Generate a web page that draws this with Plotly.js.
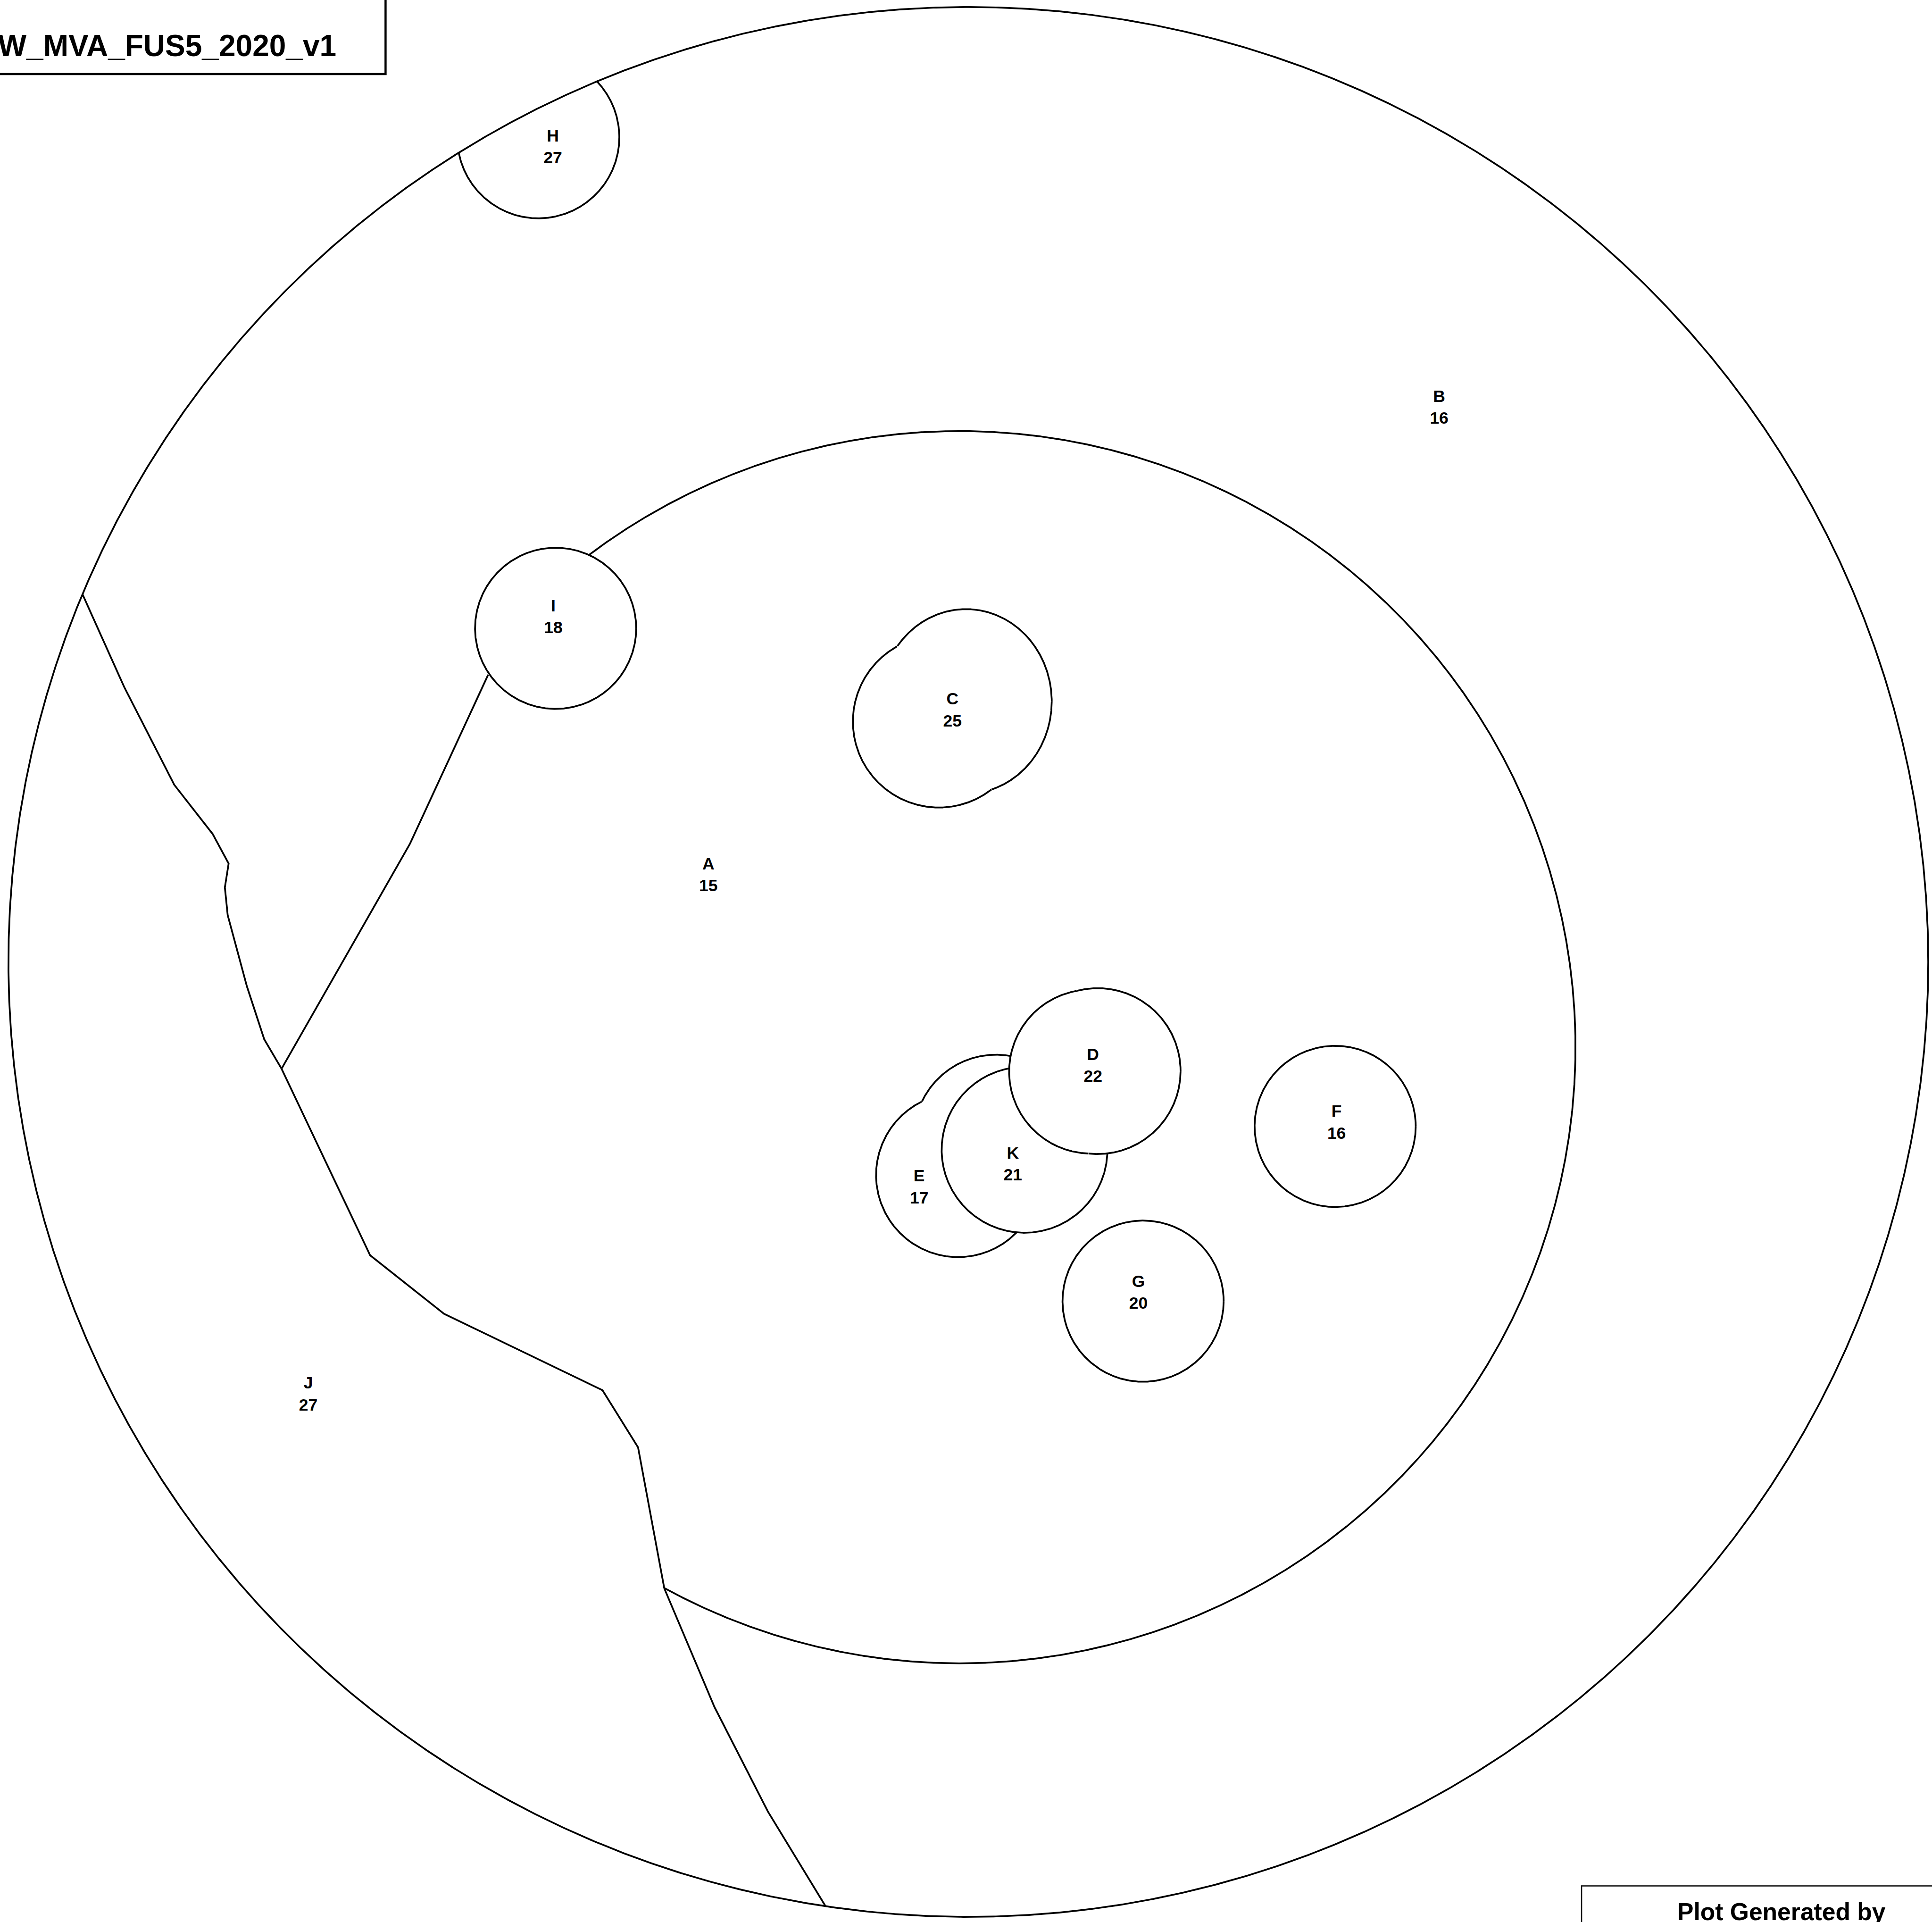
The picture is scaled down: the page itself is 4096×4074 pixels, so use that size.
<!DOCTYPE html>
<html><head><meta charset="utf-8">
<script src="https://cdn.plot.ly/plotly-3.0.1.min.js"></script>
<style>html,body{margin:0;padding:0;background:#fff;overflow:hidden}#chart{width:4096px;height:4074px}</style>
</head><body><div id="chart"></div>
<script>
// Map units = pixels of the original 4124 x 4102 plot (y grows downward).
const zoneNames  = ['A','B','C','D','E','F','G','H','I','J','K'];
const zoneValues = [15, 16, 25, 22, 17, 16, 20, 27, 18, 27, 21];
const labelX = [1512, 3072, 2033, 2333, 1962, 2853, 2430, 1180, 1181, 658, 2162];
const labelY = [1870, 872, 1518, 2277, 2536, 2398, 2761, 316, 1319, 2978, 2487];

// Wafer edge (slightly elliptical in the original)
const waferCenter = [2067, 2053];
const waferRadii  = [2049, 2038];

// Inner ring (only drawn where it separates A and B)
const ringCenter = [2048, 2235];
const ringRadius = 1315;
const ringArcDeg = [-127, 118.6];

// Round zones, each made of one or more rounded pieces (outline = union of pieces)
const pieceZone = ['C', 'C', 'D', 'D', 'E', 'E', 'F', 'G', 'H', 'I', 'K'];
const pieceCX   = [2062, 2004, 2329, 2343, 2045, 2126, 2850, 2440, 1149, 1186, 2187];
const pieceCY   = [1497, 1540, 2287, 2286, 2508, 2426, 2404, 2777, 293, 1341, 2454];
const pieceRX   = [183, 183.5, 175, 177, 175, 175, 172, 172, 173, 172, 177];
const pieceRY   = [197, 183.5, 175, 177, 175, 175, 172, 172, 173, 172, 177];
// stacking of overlapping zones (higher covers lower)
const zoneLayer = {E: 0, K: 1, D: 2};

// Straight boundaries between A, B and J
const edgeLeftX = [176, 265, 372, 454, 488, 480, 486, 527, 564, 601];
const edgeLeftY = [1268, 1466, 1675, 1780, 1843, 1894, 1953, 2105, 2218, 2281];
const spokeX = [1042, 875, 601];
const spokeY = [1440, 1801, 2281];
const jBorderX = [601, 790, 948, 1286, 1362, 1418];
const jBorderY = [2281, 2679, 2804, 2967, 3089, 3390];
const tailX = [1418, 1525, 1639, 1762];
const tailY = [3390, 3643, 3866, 4068];

const titleText = 'SW_MVA_FUS5_2020_v1';
const footerText = 'Plot Generated by';

const LW = 3.7;
const LINE = {color: '#000', width: LW};
const traces = [];

function insideEllipse(x, y, cx, cy, rx, ry) {
  const dx = (x - cx) / rx, dy = (y - cy) / ry;
  return dx * dx + dy * dy < 1 - 1e-9;
}
function layerOf(z) { return zoneLayer[z] !== undefined ? zoneLayer[z] : 0; }

function outline(cx, cy, rx, ry, a0, a1, hidden) {
  const n = 2400, xs = [], ys = [];
  for (let i = 0; i <= n; i++) {
    const a = (a0 + (a1 - a0) * i / n) * Math.PI / 180;
    const x = cx + rx * Math.cos(a), y = cy + ry * Math.sin(a);
    if (hidden && hidden(x, y)) { xs.push(null); ys.push(null); }
    else { xs.push(x); ys.push(y); }
  }
  return {type: 'scatter', mode: 'lines', x: xs, y: ys, line: LINE, hoverinfo: 'skip', showlegend: false};
}

// wafer edge
traces.push(outline(waferCenter[0], waferCenter[1], waferRadii[0], waferRadii[1], 0, 360, null));
// inner ring arc
traces.push(outline(ringCenter[0], ringCenter[1], ringRadius, ringRadius, ringArcDeg[0], ringArcDeg[1], null));

// polyline boundaries
[[edgeLeftX, edgeLeftY], [spokeX, spokeY], [jBorderX, jBorderY], [tailX, tailY]].forEach(p => {
  traces.push({type: 'scatter', mode: 'lines', x: p[0], y: p[1], line: LINE, hoverinfo: 'skip', showlegend: false});
});

// round zones
pieceZone.forEach((z, i) => {
  const hidden = (x, y) => {
    if (!insideEllipse(x, y, waferCenter[0], waferCenter[1], waferRadii[0], waferRadii[1])) return true;
    for (let j = 0; j < pieceZone.length; j++) {
      if (j === i) continue;
      const zj = pieceZone[j];
      const covers = (zj === z) || (layerOf(zj) > layerOf(z));
      if (covers && insideEllipse(x, y, pieceCX[j], pieceCY[j], pieceRX[j], pieceRY[j])) return true;
    }
    return false;
  };
  traces.push(outline(pieceCX[i], pieceCY[i], pieceRX[i], pieceRY[i], 0, 360, hidden));
});

// zone labels
traces.push({
  type: 'scatter', mode: 'text', x: labelX, y: labelY,
  text: zoneNames.map((n, i) => '<b>' + n + '<br>' + zoneValues[i] + '</b>'),
  textposition: 'middle center',
  textfont: {family: 'Liberation Sans, Arial, sans-serif', size: 35.5, color: '#000'},
  cliponaxis: false, hoverinfo: 'skip', showlegend: false
});

const layout = {
  width: 4096, height: 4074,
  margin: {l: 0, r: 0, t: 0, b: 0, pad: 0},
  paper_bgcolor: '#fff', plot_bgcolor: '#fff',
  font: {family: 'Liberation Sans, Arial, sans-serif', color: '#000'},
  showlegend: false,
  xaxis: {range: [0, 4124], visible: false, showgrid: false, zeroline: false, fixedrange: true},
  yaxis: {range: [4102, 0], visible: false, showgrid: false, zeroline: false, fixedrange: true},
  shapes: [
    {type: 'rect', xref: 'x', yref: 'y', x0: -200, y0: -200, x1: 823, y1: 158,
     line: {color: '#000', width: 4.5}, fillcolor: 'rgba(0,0,0,0)'},
    {type: 'rect', xref: 'x', yref: 'y', x0: 3376, y0: 4025, x1: 4400, y1: 4400,
     line: {color: '#000', width: 2.5}, fillcolor: 'rgba(0,0,0,0)'}
  ],
  annotations: [
    {xref: 'x', yref: 'y', x: 720, y: 97.5, xanchor: 'right', yanchor: 'middle', showarrow: false,
     text: '<b>' + titleText + '</b>', font: {size: 64, color: '#000'}},
    {xref: 'x', yref: 'y', x: 3803, y: 4080, xanchor: 'center', yanchor: 'middle', showarrow: false,
     text: '<b>' + footerText + '</b>', font: {size: 51.6, color: '#000'}}
  ]
};

Plotly.newPlot('chart', traces, layout, {staticPlot: true, displayModeBar: false});
</script>
</body></html>
